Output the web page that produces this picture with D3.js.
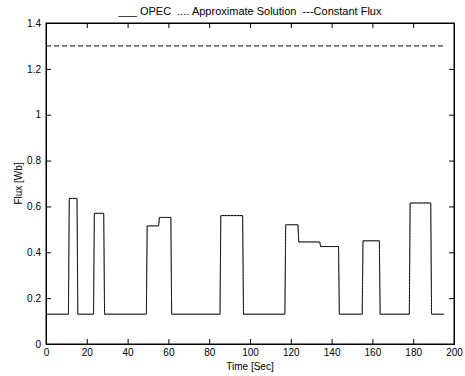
<html>
<head>
<script src="https://d3js.org/d3.v7.min.js"></script>
<style>
  body { margin: 0; background: #fff; }
  text { font-family: "Liberation Sans", Arial, sans-serif; font-size: 10px; fill: #000; }
</style>
</head>
<body>
<svg id="chart" width="465" height="376"></svg>
<script>
// data
const stepTimes  = [0, 11, 15.2, 23.3, 28.3, 49.2, 55.2, 61.2, 85.3, 96.4, 117.1, 123.5, 134.2, 143.4, 155.0, 163.4, 178.1, 188.6];
const stepLevels = [0.13, 0.635, 0.13, 0.57, 0.13, 0.515, 0.552, 0.13, 0.56, 0.13, 0.52, 0.445, 0.425, 0.13, 0.45, 0.13, 0.615, 0.13];
const endTime = 195;
const constantFlux = 1.3;
const xTicks = [0, 20, 40, 60, 80, 100, 120, 140, 160, 180, 200];
const yTicks = [0, 0.2, 0.4, 0.6, 0.8, 1, 1.2, 1.4];
const legendText = "___ OPEC  .... Approximate Solution  ---Constant Flux";

const svg = d3.select("#chart");
const margin = {top: 23, right: 11, bottom: 32, left: 46};
const W = 465 - margin.left - margin.right;
const H = 376 - margin.top - margin.bottom;

const x = d3.scaleLinear().domain([0, 200]).range([0, W]);
const y = d3.scaleLinear().domain([0, 1.4]).range([H, 0]);

const g = svg.append("g").attr("transform", "translate(" + margin.left + "," + margin.top + ")");

// build the step signal, rise time ~0.4 s
const ramp = 0.4;
let pts = [];
stepTimes.forEach((t, i) => {
    const next = i < stepTimes.length - 1 ? stepTimes[i + 1] : endTime;
    const lvl = stepLevels[i];
    if (i === 0) pts.push([t, lvl]);
    else pts.push([t + ramp, lvl]);
    pts.push([next, lvl]);
});

const line = d3.line().x(d => x(d[0])).y(d => y(d[1]));

// constant flux
g.append("path")
    .attr("d", line([[0, constantFlux], [endTime, constantFlux]]))
    .attr("fill", "none").attr("stroke", "#000").attr("stroke-width", 1)
    .attr("stroke-dasharray", "5,3");

// OPEC
g.append("path").attr("d", line(pts))
    .attr("fill", "none").attr("stroke", "#000").attr("stroke-width", 1);

// approximate solution
g.append("path").attr("d", line(pts))
    .attr("fill", "none").attr("stroke", "#555").attr("stroke-width", 1)
    .attr("stroke-dasharray", "1,2");

// box
g.append("rect").attr("x", 0).attr("y", 0).attr("width", W).attr("height", H)
    .attr("fill", "none").attr("stroke", "#000").attr("stroke-width", 1);

// axes with inward ticks
const tl = 5;
const xb = g.append("g").attr("transform", "translate(0," + H + ")")
    .call(d3.axisBottom(x).tickValues(xTicks).tickSize(-tl).tickPadding(5).tickFormat(d3.format("d")));
const xt = g.append("g")
    .call(d3.axisTop(x).tickValues(xTicks).tickSize(-tl).tickFormat(""));
const yl = g.append("g")
    .call(d3.axisLeft(y).tickValues(yTicks).tickSize(-tl).tickPadding(5).tickFormat(d => d3.format("")(+d.toFixed(1))));
const yr = g.append("g").attr("transform", "translate(" + W + ",0)")
    .call(d3.axisRight(y).tickValues(yTicks).tickSize(-tl).tickFormat(""));

[xb, xt, yl, yr].forEach(a => {
    a.select(".domain").attr("stroke", "#000");
    a.selectAll("line").attr("stroke", "#000");
    a.selectAll("text").style("font-size", "10px").attr("fill", "#000")
        .style("font-family", "Liberation Sans, Arial, sans-serif");
});

// labels
svg.append("text").attr("x", margin.left + W / 2).attr("y", 370)
    .attr("text-anchor", "middle").text("Time [Sec]");
svg.append("text")
    .attr("transform", "translate(22," + (margin.top + H / 2) + ") rotate(-90)")
    .attr("text-anchor", "middle").text("Flux [Wb]");
svg.append("text").attr("x", 250).attr("y", 15)
    .attr("text-anchor", "middle").style("font-size", "11px")
    .style("white-space", "pre").text(legendText);
</script>
</body>
</html>
